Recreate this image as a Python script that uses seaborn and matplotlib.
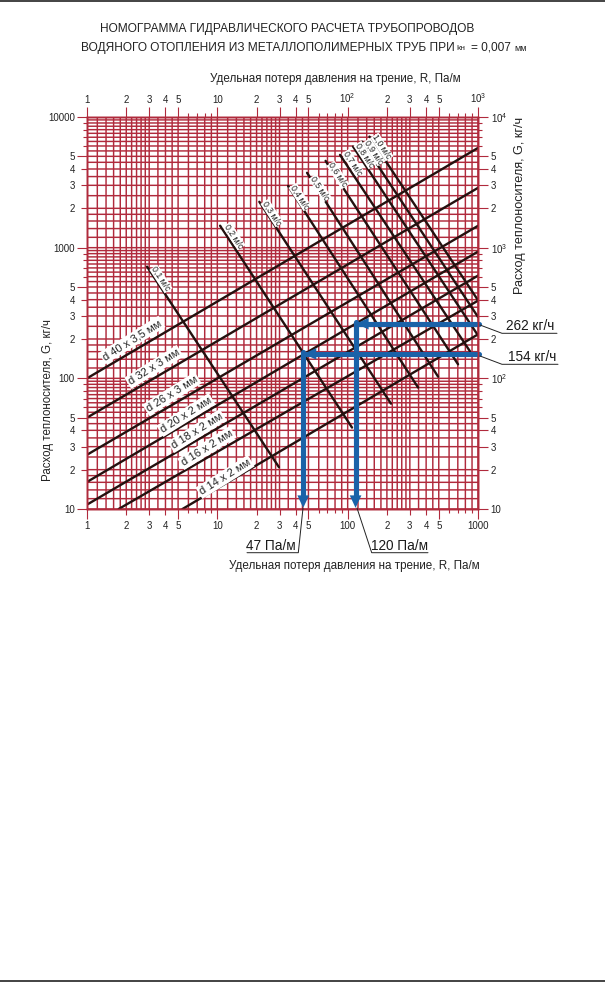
import matplotlib
matplotlib.use("Agg")
import matplotlib.pyplot as plt
from matplotlib.lines import Line2D
import seaborn as sns

diam_names = ["d 40 x 3,5 мм", "d 32 x 3 мм", "d 26 x 3 мм", "d 20 x 2 мм", "d 18 x 2 мм", "d 16 x 2 мм", "d 14 x 2 мм"]
diam_R = [[1, 1000], [1, 1000], [1, 1000], [1, 1000], [1, 1000], [1.75, 1000], [5.4, 1000]]
diam_G = [[100, 5800], [50, 2870], [26, 1470], [16.1, 933], [10.8, 611], [10, 393], [10, 217]]

vel_names = ["0,1 м/с", "0,2 м/с", "0,3 м/с", "0,4 м/с", "0,5 м/с", "0,6 м/с", "0,7 м/с", "0,8 м/с", "0,9 м/с", "1,0 м/с"]
vel_R = [[2.89, 29.7], [10.5, 108], [21, 215], [34.9, 347], [48.8, 494], [67.7, 703], [87.4, 868], [110, 1000], [129, 1000], [147, 1000]]
vel_G = [[716, 20.9], [1473, 42], [2245, 64], [2970, 85], [3740, 103], [4616, 128], [5130, 161], [5937, 213], [6476, 295], [7079, 396]]

flow_values = [262, 154]
flow_R_turn = [115, 45.6]
flow_labels = ["262 кг/ч", "154 кг/ч"]
loss_labels = ["47 Па/м", "120 Па/м"]

x_major = [1, 2, 3, 4, 5, 10, 20, 30, 40, 50, 100, 200, 300, 400, 500, 1000]
x_bottom_labels = ["1", "2", "3", "4", "5", "10", "2", "3", "4", "5", "100", "2", "3", "4", "5", "1000"]
x_top_labels = ["1", "2", "3", "4", "5", "10", "2", "3", "4", "5", r"$\mathregular{10^{2}}$", "2", "3", "4", "5", r"$\mathregular{10^{3}}$"]
y_major = [10, 20, 30, 40, 50, 100, 200, 300, 400, 500, 1000, 2000, 3000, 4000, 5000, 10000]
y_left_labels = ["10", "2", "3", "4", "5", "100", "2", "3", "4", "5", "1000", "2", "3", "4", "5", "10000"]
y_right_labels = ["10", "2", "3", "4", "5", r"$\mathregular{10^{2}}$", "2", "3", "4", "5", r"$\mathregular{10^{3}}$", "2", "3", "4", "5", r"$\mathregular{10^{4}}$"]
x_grid_mant = [1.2, 1.4, 1.6, 1.8, 2.2, 2.4, 2.6, 2.8, 3.5, 4.5, 6, 7, 8, 9]
y_grid_mant = [1.2, 1.4, 1.6, 1.8, 2.5, 3.5, 4.5, 5.5, 6, 6.5, 7, 7.5, 8, 8.5, 9, 9.5]
short_mant = [6, 7, 8, 9]

W, H = 605, 982
RED = "#b02a3c"
BLACK = "#24110f"
BLUE = "#1a62a8"
TXT = "#222222"

sns.set_theme(style="white")
plt.rcParams["font.family"] = ["Liberation Sans", "DejaVu Sans"]
plt.rcParams["axes.unicode_minus"] = False

fig = plt.figure(figsize=(W / 100, H / 100), dpi=100, facecolor="white")
L, R_, T, B = 87, 478, 117, 509
ax = fig.add_axes([L / W, 1 - B / H, (R_ - L) / W, (B - T) / H])
ax.set_xscale("log"); ax.set_yscale("log")
ax.set_xlim(1, 1000); ax.set_ylim(10, 10000)


def fx(px):
    return px / W


def fy(py):
    return 1 - py / H


def style_axis(axis, major, labels, minor, side_long, grid):
    axis.set_ticks(major)
    axis.set_ticklabels(labels)
    axis.set_ticks(minor, minor=True)
    axis.set_minor_formatter(matplotlib.ticker.NullFormatter())
    axis.set_tick_params(which="major", length=7.2, width=0.8, color=RED, labelcolor=TXT, labelsize=7, pad=1.5)
    axis.set_tick_params(which="minor", length=7.2, width=0.8, color=RED)
    if grid:
        axis.grid(True, which="both", color=RED, lw=1.05)
    for t, v in zip(axis.get_major_ticks(), major):
        first = f"{v:.0e}"[0]
        size = 7.2 if first in side_long else 4.3
        t.tick1line.set_markersize(size); t.tick2line.set_markersize(size)
        t.gridline.set_snap(False)
    for t, v in zip(axis.get_minor_ticks(), minor):
        m = float(f"{v:.1e}".split("e")[0])
        size = 3.2 if m in short_mant else 0
        t.tick1line.set_markersize(size); t.tick2line.set_markersize(size)
        t.gridline.set_snap(False)


x_minor = [m * d for d in (1, 10, 100) for m in x_grid_mant]
y_minor = [m * d for d in (10, 100, 1000) for m in y_grid_mant]
style_axis(ax.xaxis, x_major, x_bottom_labels, x_minor, "15", True)
style_axis(ax.yaxis, y_major, y_left_labels, y_minor, "15", True)
ax.set_axisbelow(True)
for s in ax.spines.values():
    s.set_color(RED); s.set_linewidth(1.0)

ax_top = ax.twiny(); ax_top.set_xscale("log"); ax_top.set_xlim(1, 1000)
style_axis(ax_top.xaxis, x_major, x_top_labels, x_minor, "12345", False)
ax_right = ax.twinx(); ax_right.set_yscale("log"); ax_right.set_ylim(10, 10000)
style_axis(ax_right.yaxis, y_major, y_right_labels, y_minor, "1", False)
for a in (ax_top, ax_right):
    a.patch.set_visible(False)
    for s in a.spines.values():
        s.set_color(RED); s.set_linewidth(1.0)
ax_right.yaxis.set_tick_params(which="major", pad=2)

for rs, gs in zip(diam_R, diam_G):
    sns.lineplot(x=rs, y=gs, ax=ax, color=BLACK, lw=1.7, estimator=None, legend=False)
for rs, gs in zip(vel_R, vel_G):
    sns.lineplot(x=rs, y=gs, ax=ax, color=BLACK, lw=1.7, estimator=None, legend=False)
ax.set_xlabel(""); ax.set_ylabel("")

# blue read-off arrows
for g, r in zip(flow_values, flow_R_turn):
    sns.lineplot(x=[r, r], y=[g * 1.03, 12.5], ax=ax, color=BLUE, lw=3.7, estimator=None, legend=False, zorder=5)
    sns.lineplot(x=[r * 1.05, 1025], y=[g, g], ax=ax, color=BLUE, lw=3.7, estimator=None, legend=False, zorder=5).lines[-1].set_clip_on(False)
    head = dict(arrowstyle="-|>,head_length=0.9,head_width=0.42", mutation_scale=10, color=BLUE, lw=0, shrinkA=0, shrinkB=0)
    ax.annotate("", xy=(r, 10.2), xytext=(r, 13.5), arrowprops=head, zorder=6)
    ax.annotate("", xy=(r * 1.01, g), xytext=(r * 1.22, g), arrowprops=head, zorder=6)
ax.set_xlim(1, 1000); ax.set_ylim(10, 10000)

# labels on the lines
box = dict(facecolor="white", edgecolor="none", pad=1.2)
diam_pos = [(132, 340), (154, 367), (172, 394), (186, 415), (197, 431), (207, 448), (225, 477)]
for name, (px, py) in zip(diam_names, diam_pos):
    fig.text(fx(px), fy(py), name, rotation=32, rotation_mode="anchor", ha="center", va="center", fontsize=8, color=TXT, bbox=box)
vel_pos = [(161, 279), (234, 236), (272, 213), (300, 197), (320, 188), (338, 175), (353, 163), (365, 155), (374, 152), (382, 147)]
for name, (px, py) in zip(vel_names, vel_pos):
    fig.text(fx(px), fy(py), name, rotation=-57, rotation_mode="anchor", ha="center", va="center", fontsize=6.3, color=TXT,
             bbox=dict(facecolor="white", edgecolor="none", pad=0.2))

# titles and axis captions
fig.text(fx(287.5), fy(29), "НОМОГРАММА ГИДРАВЛИЧЕСКОГО РАСЧЕТА ТРУБОПРОВОДОВ", ha="center", va="center", fontsize=8.6, color=TXT)
fig.text(fx(81), fy(48), "ВОДЯНОГО ОТОПЛЕНИЯ ИЗ МЕТАЛЛОПОЛИМЕРНЫХ ТРУБ ПРИ", ha="left", va="center", fontsize=8.6, color=TXT)
fig.text(fx(456), fy(48.5), "kн", ha="left", va="center", fontsize=6, color=TXT)
fig.text(fx(471), fy(48), "= 0,007", ha="left", va="center", fontsize=8.6, color=TXT)
fig.text(fx(514), fy(48.5), "мм", ha="left", va="center", fontsize=6.5, color=TXT)
fig.text(fx(335), fy(79), "Удельная потеря давления на трение, R, Па/м", ha="center", va="center", fontsize=8.4, color=TXT)
fig.text(fx(354), fy(566), "Удельная потеря давления на трение, R, Па/м", ha="center", va="center", fontsize=8.35, color=TXT)
fig.text(fx(48), fy(400), "Расход теплоносителя, G, кг/ч", rotation=90, ha="center", va="center", fontsize=8.3, color=TXT)
fig.text(fx(520), fy(205), "Расход теплоносителя, G, кг/ч", rotation=90, ha="center", va="center", fontsize=9.1, color=TXT)

# leaders
leaders = [
    ([480, 502, 557], [325, 333.3, 333.3]),
    ([480, 502, 558], [356, 364.3, 364.3]),
    ([303, 298.3, 247], [508, 552.7, 552.7]),
    ([357, 371.7, 428], [508, 552.7, 552.7]),
]
for xs, ys in leaders:
    fig.add_artist(Line2D([fx(v) for v in xs], [fy(v) for v in ys], color="#222222", lw=0.7))
fig.text(fx(530), fy(326), flow_labels[0], ha="center", va="center", fontsize=9.8, color="#1a1a1a")
fig.text(fx(532), fy(357), flow_labels[1], ha="center", va="center", fontsize=9.8, color="#1a1a1a")
fig.text(fx(271), fy(545.7), loss_labels[0], ha="center", va="center", fontsize=9.8, color="#1a1a1a")
fig.text(fx(400), fy(545.7), loss_labels[1], ha="center", va="center", fontsize=9.8, color="#1a1a1a")

# page rules at top and bottom
fig.add_artist(Line2D([0, 1], [fy(0.6), fy(0.6)], color="#222222", lw=1.2))
fig.add_artist(Line2D([0, 1], [fy(981), fy(981)], color="#222222", lw=1.2))

fig.savefig("out.png", dpi=100, facecolor="white")
